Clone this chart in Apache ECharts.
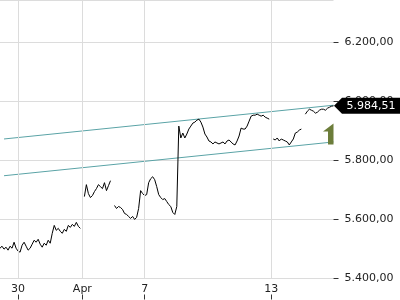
<!DOCTYPE html>
<html><head><meta charset="utf-8">
<script src="https://cdn.jsdelivr.net/npm/echarts@6/dist/echarts.min.js"></script>
<style>html,body{margin:0;padding:0;background:#fff}#c{width:400px;height:300px}</style>
</head><body><div id="c"></div>
<script>
// price samples (one per category slot), null = gap between trading sessions
const price = [
  5502.6, 5509.3, 5499.3, 5506.0, 5495.9, 5509.3, 5502.6, 5522.8, 5502.6, 5492.6,
  5489.2, 5512.7, 5522.8, 5509.3, 5495.9, 5502.6, 5516.1, 5529.5, 5522.8, 5532.8,
  5516.1, 5506.0, 5519.4, 5512.7, 5529.5, 5519.4, 5553.0, 5579.8, 5563.1, 5569.8,
  5559.7, 5553.0, 5566.4, 5559.7, 5579.8, 5573.1, 5583.2, 5576.5, 5590.0, 5576.5,
  5569.8,
  null,
  5677.3, 5717.7, 5687.4, 5674.0, 5680.7, 5694.1, 5704.2, 5717.7, 5711.0, 5704.2,
  5724.4, 5697.5, 5714.3, 5731.1,
  null,
  5647.1, 5637.0, 5643.7, 5640.4, 5633.6, 5620.2, 5616.8, 5610.1, 5603.4, 5610.1,
  5600.0, 5606.7, 5637.0, 5697.5, 5687.4, 5680.7, 5684.0, 5724.4, 5737.8, 5744.5,
  5734.5, 5711.0, 5684.0, 5674.0, 5667.2, 5670.6, 5660.5, 5650.4, 5643.7, 5623.6,
  5616.8, 5643.7, 5916.0, 5875.7, 5892.4, 5875.7, 5889.1, 5905.9, 5916.0, 5926.1,
  5929.4, 5936.1, 5939.5, 5929.4, 5912.6, 5889.1, 5879.0, 5865.5, 5862.2, 5855.5,
  5862.2, 5858.8, 5855.5, 5858.8, 5862.2, 5855.5, 5865.5, 5868.9, 5862.2, 5855.5,
  5852.1, 5865.5, 5882.4, 5909.2, 5905.9, 5905.9, 5916.0, 5932.8, 5949.6, 5952.9,
  5952.9, 5956.3, 5952.9, 5949.6, 5952.9, 5946.2, 5942.9, 5939.5,
  null,
  5872.3, 5868.9, 5875.7, 5865.5, 5872.3, 5868.9, 5865.5, 5862.2, 5852.1, 5862.2,
  5872.3, 5892.4, 5895.8, 5902.5, 5905.9,
  null,
  5956.3, 5966.4, 5973.1, 5969.7, 5966.4, 5959.7, 5963.0, 5969.7, 5973.1, 5973.1,
  5969.7, 5976.5, 5979.8, 5983.2, 5984.51
];
const categories = price.map((_, i) => String(i));
const tickIndex = [9, 41, 72, 135];
const tickText = ['30', 'Apr', '7', '13'];
const yTicks = [5400, 5600, 5800, 6000, 6200];
const channelIndex = [2, 166];
const channelLower = [5747.9, 5862.2];
const channelUpper = [5872.3, 5986.6];
const lastValue = 5984.51;
const signalPoint = [166, 5889];

function de(v) {
  const parts = v.toFixed(2).split('.');
  return parts[0].replace(/\B(?=(\d{3})+(?!\d))/g, '.') + ',' + parts[1];
}
const isTick = (i) => tickIndex.indexOf(i) >= 0;
const FONT = 'DejaVu Sans';

const chart = echarts.init(document.getElementById('c'), null, {renderer: 'canvas'});
chart.setOption({
  animation: false,
  grid: {left: 0, right: 66.5, top: -2, bottom: 21.5, containLabel: false},
  xAxis: [{
    type: 'category', data: categories, boundaryGap: false,
    axisLine: {show: false}, axisTick: {show: false},
    axisLabel: {interval: (i) => isTick(i), margin: 5, color: '#222', fontSize: 11, fontFamily: FONT,
      formatter: (v) => { const k = tickIndex.indexOf(+v); return k >= 0 ? tickText[k] : ''; }},
    splitLine: {show: false}
  }, {
    type: 'category', data: categories, boundaryGap: false, position: 'bottom', offset: 16,
    axisLine: {show: false},
    axisTick: {show: true, interval: (i) => isTick(i), length: 5, lineStyle: {color: '#333'}},
    axisLabel: {show: false}, splitLine: {show: false}
  }],
  yAxis: {
    type: 'value', position: 'right', min: 5400, max: 6342.8, interval: 200,
    axisLine: {show: false},
    axisTick: {show: true, length: 5, lineStyle: {color: '#333'}},
    axisLabel: {margin: 11, color: '#222', fontSize: 11, fontFamily: FONT, showMaxLabel: false,
      formatter: (v) => yTicks.indexOf(v) >= 0 ? de(v) : ''},
    splitLine: {show: true, lineStyle: {color: '#dcdcdc', width: 1}}
  },
  series: [{
    type: 'line', z: 1, silent: true, symbol: 'none', showSymbol: false,
    data: [[channelIndex[0], channelLower[0]], [channelIndex[1], channelLower[1]]],
    lineStyle: {color: '#5aa3a6', width: 1},
    markLine: {
      silent: true, symbol: 'none', label: {show: false},
      lineStyle: {color: '#dcdcdc', width: 1, type: 'solid'},
      data: tickIndex.map((i) => ({xAxis: i}))
    }
  }, {
    type: 'line', z: 1, silent: true, symbol: 'none', showSymbol: false,
    data: [[channelIndex[0], channelUpper[0]], [channelIndex[1], channelUpper[1]]],
    lineStyle: {color: '#5aa3a6', width: 1}
  }, {
    type: 'line', z: 3, data: price, showSymbol: false, symbol: 'none', connectNulls: false,
    lineStyle: {color: '#000', width: 1}, silent: true,
    markPoint: {
      silent: true,
      data: [{coord: [166, lastValue], value: lastValue}],
      symbol: 'path://M0,8 L8,0 L70,0 L70,16 L8,16 Z',
      symbolSize: [70, 16], symbolKeepAspect: false,
      symbolOffset: [35.5, 0],
      itemStyle: {color: '#000'},
      label: {show: true, position: 'inside', offset: [2, 0], color: '#fff', fontSize: 11, fontFamily: FONT,
        formatter: (p) => de(p.value)}
    }
  }, {
    type: 'custom', z: 4, silent: true,
    data: [signalPoint],
    renderItem: (params, api) => {
      const p = api.coord([api.value(0), api.value(1)]);
      const x = p[0], y = p[1];
      const xr = params.coordSys.x + params.coordSys.width;
      const pts = [
        [x, y - 10.5], [x + 10.5, y - 2.5], [x + 5.5, y - 2.5], [x + 5.5, y + 10.5],
        [x - 5.5, y + 10.5], [x - 5.5, y - 2.5], [x - 10.5, y - 2.5]
      ].map((q) => [Math.min(q[0], xr), q[1]]);
      return {type: 'polygon', shape: {points: pts}, style: {fill: '#6c7d3a'}};
    }
  }]
});
</script>
</body></html>
